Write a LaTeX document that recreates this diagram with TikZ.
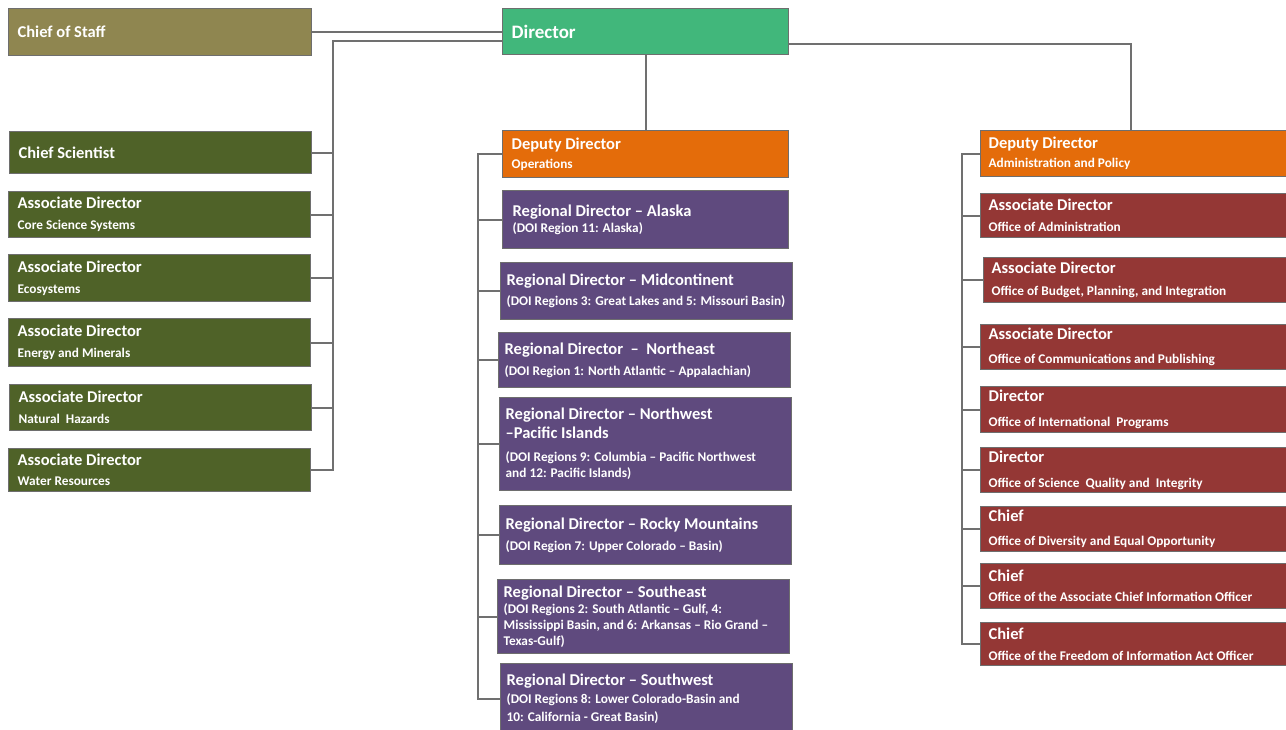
\documentclass[tikz,border=0pt]{standalone}
\usepackage{fontspec}
\setmainfont{Carlito}
\newcommand\orgtitle{\fontsize{16.5}{16}\selectfont}
\newcommand\orgsub{\fontsize{13.3}{16}\selectfont}
\definecolor{staffkhaki}{HTML}{8F8650}
\definecolor{dirgreen}{HTML}{41B77B}
\definecolor{scienceolive}{HTML}{4F6228}
\definecolor{deputyorange}{HTML}{E46C0A}
\definecolor{regionpurple}{HTML}{5F4A7E}
\definecolor{officered}{HTML}{943735}
\definecolor{boxline}{HTML}{6E6E6E}
\definecolor{linkgrey}{HTML}{707070}
\tikzset{
  orgunit/.style={rectangle, draw=boxline, line width=1.3pt, anchor=north west, align=flush left, text=white, font=\bfseries\orgtitle, inner xsep=9pt, inner ysep=1pt},
  staff/.style={orgunit, fill=staffkhaki, text width=285pt},
  dirbox/.style={orgunit, fill=dirgreen, text width=268pt},
  science/.style={orgunit, fill=scienceolive, text width=284pt},
  deputy/.style={orgunit, fill=deputyorange},
  region/.style={orgunit, fill=regionpurple, text width=280pt, inner xsep=6pt},
  office/.style={orgunit, fill=officered, text width=294pt, inner xsep=8pt},
  link/.style={draw=linkgrey, line width=2.2pt}
}
\begin{document}
\begin{tikzpicture}[x=1pt, y=-1pt]
\useasboundingbox (0,0) rectangle (1286,730);

\node (cos) [staff, minimum height=47pt] at (8,8) {Chief of Staff};
\node (dir) [dirbox, minimum height=46pt, font=\bfseries\fontsize{19}{20}\selectfont] at (502,8) {Director};

% left column
\node (sci) [science, minimum height=42pt] at (9,131) {Chief Scientist};
\node (css) [science, minimum height=46pt] at (8,191) {Associate Director\\[5pt]\orgsub Core Science Systems};
\node (eco) [science, minimum height=47pt] at (8,254) {Associate Director\\[5pt]\orgsub Ecosystems};
\node (enm) [science, minimum height=48pt] at (8,318) {Associate Director\\[5pt]\orgsub Energy and Minerals};
\node (haz) [science, minimum height=46pt] at (9,384) {Associate Director\\[5pt]\orgsub Natural \ Hazards};
\node (wat) [science, minimum height=43pt] at (8,448) {Associate Director\\[4pt]\orgsub Water Resources};

% middle column
\node (ops) [deputy, text width=268pt, minimum height=47pt] at (502,130) {Deputy Director\\[3pt]\orgsub Operations};
\node (ala) [region, text width=266pt, inner xsep=10pt, minimum height=58pt] at (502,190) {Regional Director -- Alaska\\\orgsub (DOI Region 11: Alaska)};
\node (mid) [region, minimum height=57pt] at (500,262) {Regional Director -- Midcontinent\\[4pt]\orgsub (DOI Regions 3: Great Lakes and 5: Missouri Basin)};
\node (nea) [region, minimum height=55pt] at (498,332) {Regional Director \ -- \ Northeast\\[5pt]\orgsub (DOI Region 1: North Atlantic -- Appalachian)};
\node (nwp) [region, minimum height=93pt] at (499,397) {Regional Director -- Northwest\\[3pt]--Pacific Islands\\[7pt]\orgsub (DOI Regions 9: Columbia -- Pacific Northwest\\and 12: Pacific Islands)};
\node (roc) [region, minimum height=59pt] at (499,505) {Regional Director -- Rocky Mountains\\[5pt]\orgsub (DOI Region 7: Upper Colorado -- Basin)};
\node (sea) [region, minimum height=74pt] at (497,579) {Regional Director -- Southeast\\\orgsub (DOI Regions 2: South Atlantic -- Gulf, 4:\\Mississippi Basin, and 6: Arkansas -- Rio Grand --\\Texas-Gulf)};
\node (swe) [region, minimum height=70pt] at (500,663) {Regional Director -- Southwest\\[2pt]\orgsub (DOI Regions 8: Lower Colorado-Basin and\\[2pt]10: California - Great Basin)};

% right column
\node (adm) [deputy, text width=294pt, inner xsep=8pt, minimum height=46pt] at (980,130) {Deputy Director\\[3pt]\orgsub Administration and Policy};
\node (oad) [office, minimum height=44pt] at (980,193) {Associate Director\\[5pt]\orgsub Office of Administration};
\node (bud) [office, minimum height=45pt] at (983,257) {Associate Director\\[6pt]\orgsub Office of Budget, Planning, and Integration};
\node (com) [office, minimum height=45pt] at (980,324) {Associate Director\\[8pt]\orgsub Office of Communications and Publishing};
\node (int) [office, minimum height=46pt] at (980,386) {Director\\[9pt]\orgsub Office of International \ Programs};
\node (sqi) [office, minimum height=45pt] at (980,447) {Director\\[9pt]\orgsub Office of Science \ Quality and \ Integrity};
\node (div) [office, minimum height=45pt] at (980,506) {Chief\\[8pt]\orgsub Office of Diversity and Equal Opportunity};
\node (aci) [office, minimum height=45pt] at (980,563) {Chief\\[4pt]\orgsub Office of the Associate Chief Information Officer};
\node (foi) [office, minimum height=43pt] at (980,622) {Chief\\[5pt]\orgsub Office of the Freedom of Information Act Officer};

\coordinate (lbus) at (333,41);
\coordinate (mbus) at (478,153);
\coordinate (rbus) at (962,153);

\draw[link] (cos.east) -- (cos.east -| dir.west);
\draw[link] ([yshift=-9pt]dir.west) -| (lbus |- wat.east) -- (wat.east);
\foreach \n in {sci,css,eco,enm,haz}
  \draw[link] (\n.east) -- (\n.east -| lbus);

\draw[link] (dir.south) -- (ops.north);
\draw[link] (ops.west) -| (mbus |- swe.west) -- (swe.west);
\foreach \n in {ala,mid,nea,nwp,roc,sea}
  \draw[link] (\n.west) -- (\n.west -| mbus);

\draw[link] ([yshift=-12pt]dir.east) -| ([xshift=-5pt]adm.north);
\draw[link] (adm.west) -| (rbus |- foi.west) -- (foi.west);
\foreach \n in {oad,bud,com,int,sqi,div,aci}
  \draw[link] (\n.west) -- (\n.west -| rbus);
\end{tikzpicture}
\end{document}
